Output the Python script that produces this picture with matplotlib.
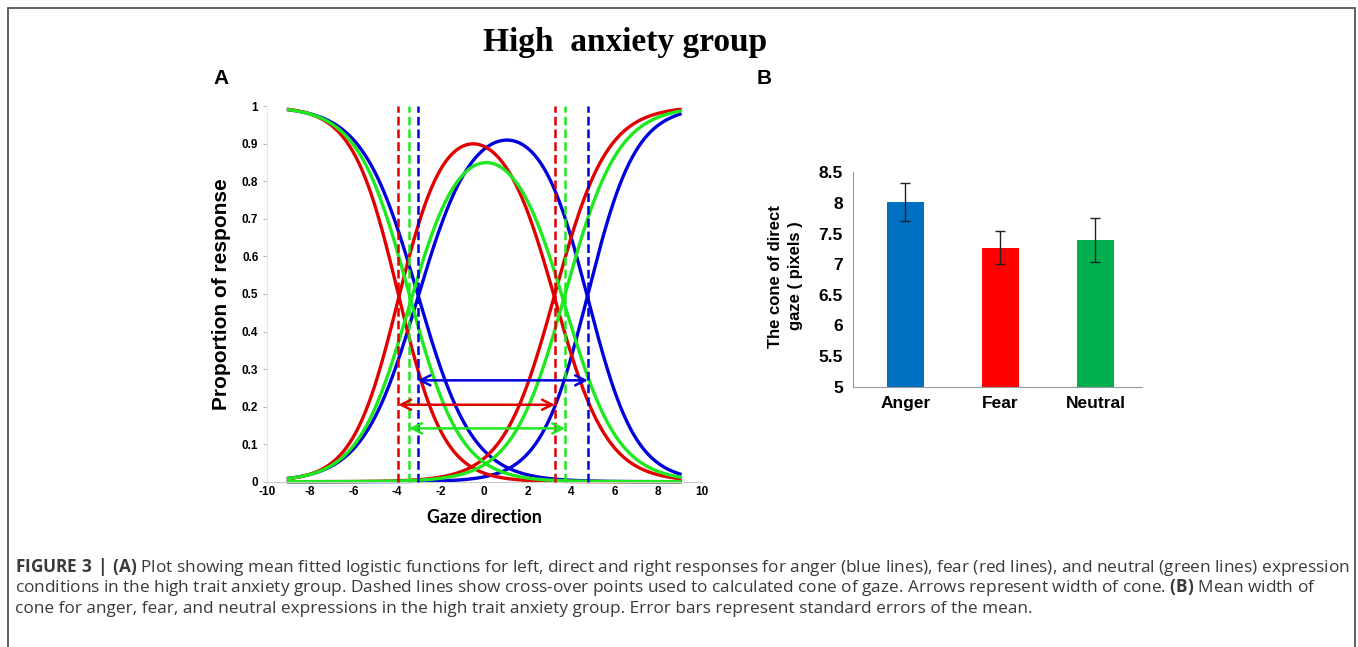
import numpy as np
import matplotlib
matplotlib.use('Agg')
import matplotlib.pyplot as plt
from matplotlib.patches import Rectangle
from matplotlib.ticker import FuncFormatter

plt.rcParams['font.family'] = ['Liberation Sans', 'DejaVu Sans']
plt.rcParams['mathtext.fontset'] = 'custom'
plt.rcParams['mathtext.rm'] = 'Open Sans'
plt.rcParams['mathtext.bf'] = 'Open Sans:bold'

# ---- data ----
emotions = ['Anger', 'Fear', 'Neutral']
line_colors = ['#0000dd', '#e00000', '#1ee81e']
bar_colors = ['#0070C0', '#FF0000', '#00B050']

# panel A: fitted logistic functions (cross-over point, slope) for left / right responses
left_mid = [-3.06, -3.95, -3.45]
left_slope = [1.27, 1.05, 1.18]
right_mid = [4.77, 3.25, 3.72]
right_slope = [1.10, 1.20, 1.22]
direct_peak = [0.91, 0.90, 0.85]
arrow_y = [0.27, 0.205, 0.142]
gaze_min, gaze_max = -9, 9

# panel B: cone of direct gaze
cone_mean = [8.02, 7.27, 7.39]
cone_se = [0.31, 0.27, 0.36]

caption = [
    r'$\mathbf{FIGURE\ 3\ |\ (A)}$ Plot showing mean fitted logistic functions for left, direct and right responses for anger (blue lines), fear (red lines), and neutral (green lines) expression',
    r'conditions in the high trait anxiety group. Dashed lines show cross-over points used to calculated cone of gaze. Arrows represent width of cone. $\mathbf{(B)}$ Mean width of',
    'cone for anger, fear, and neutral expressions in the high trait anxiety group. Error bars represent standard errors of the mean.',
]

W, H = 1358, 647
fig = plt.figure(figsize=(W / 100, H / 100), dpi=100)

# outer frame
fig.add_artist(Rectangle((8 / W, -0.05), (1355 - 8) / W, 1 - 8 / H + 0.05,
                         transform=fig.transFigure, fill=False, edgecolor='#555555', lw=1.3))

fig.text(625 / W, 1 - 42 / H, 'High  anxiety group', family='Liberation Serif',
         weight='bold', size=24, ha='center', va='center')
fig.text(213 / W, 1 - 78 / H, 'A', weight='bold', size=15, va='center')
fig.text(757 / W, 1 - 78 / H, 'B', weight='bold', size=15, va='center')

# ---- panel A ----
axA = fig.add_axes([266.7 / W, 1 - 481.7 / H, 435 / W, 375.4 / H])
gaze = np.linspace(gaze_min, gaze_max, 500)
for i in range(3):
    left = 1 / (1 + np.exp((gaze - left_mid[i]) / left_slope[i]))
    right = 1 / (1 + np.exp(-(gaze - right_mid[i]) / right_slope[i]))
    direct = 1 - left - right
    direct = direct / direct.max() * direct_peak[i]
    for y in (left, direct, right):
        axA.plot(gaze, y, color=line_colors[i], lw=2.4, clip_on=False, zorder=2)
for i in range(3):
    for m in (left_mid[i], right_mid[i]):
        axA.plot([m, m], [0, 1], color=line_colors[i], lw=1.8, ls=(0, (3.5, 1.6)),
                 clip_on=False, zorder=3)
    axA.annotate('', xy=(right_mid[i], arrow_y[i]), xytext=(left_mid[i], arrow_y[i]),
                 arrowprops=dict(arrowstyle='<->', color=line_colors[i], lw=1.8,
                                 mutation_scale=18, shrinkA=0, shrinkB=0), zorder=4)

axA.set_xlim(-10, 10)
axA.set_ylim(0, 1)
axA.set_xticks(np.arange(-10, 11, 2))
axA.set_yticks(np.arange(0, 1.01, 0.1))
fmt = FuncFormatter(lambda v, p: '{:g}'.format(round(v, 2)))
axA.xaxis.set_major_formatter(fmt)
axA.yaxis.set_major_formatter(fmt)
for s in ('top', 'right'):
    axA.spines[s].set_visible(False)
axA.spines['left'].set_color('#e6e6e6')
axA.spines['bottom'].set_color('#cccccc')
axA.tick_params(axis='y', length=3, color='#bbbbbb', pad=3, labelsize=8.5)
axA.tick_params(axis='x', length=0, pad=3, labelsize=8.5)
for lab in axA.get_xticklabels() + axA.get_yticklabels():
    lab.set_fontweight('bold')
axA.set_xlabel('Gaze direction', family=['Lato', 'DejaVu Sans'], weight='bold', size=12.8, labelpad=8)
axA.set_ylabel('Proportion of response', weight='bold', size=15, labelpad=8)

# ---- panel B ----
axB = fig.add_axes([853.3 / W, 1 - 386.7 / H, 288.4 / W, 214.4 / H])
pos = np.arange(len(emotions))
axB.bar(pos, cone_mean, width=0.39, color=bar_colors, yerr=cone_se, capsize=3.5,
        error_kw=dict(lw=1, capthick=1, ecolor='#222222'))
axB.set_xlim(-0.547, 2.486)
axB.set_ylim(5, 8.5)
axB.set_yticks(np.arange(5, 8.51, 0.5))
axB.yaxis.set_major_formatter(fmt)
axB.set_xticks(pos)
axB.set_xticklabels(emotions)
for s in ('top', 'right'):
    axB.spines[s].set_visible(False)
axB.spines['left'].set_color('#999999')
axB.spines['bottom'].set_color('#999999')
axB.tick_params(axis='y', length=0, pad=7.5, labelsize=12.5)
axB.tick_params(axis='x', length=0, pad=7, labelsize=12.5)
for lab in axB.get_xticklabels() + axB.get_yticklabels():
    lab.set_fontweight('bold')
axB.set_ylabel('The cone of direct\ngaze ( pixels )', weight='bold', size=12, linespacing=1.4)
axB.yaxis.set_label_coords(-0.176, 0.516)

# ---- caption ----
for k, line in enumerate(caption):
    fig.text(15 / W, 1 - (567 + 21 * k) / H, line, size=12.4, color='#3a3a3a',
             family='Open Sans', ha='left', va='center')

fig.savefig('out.png', dpi=100)
